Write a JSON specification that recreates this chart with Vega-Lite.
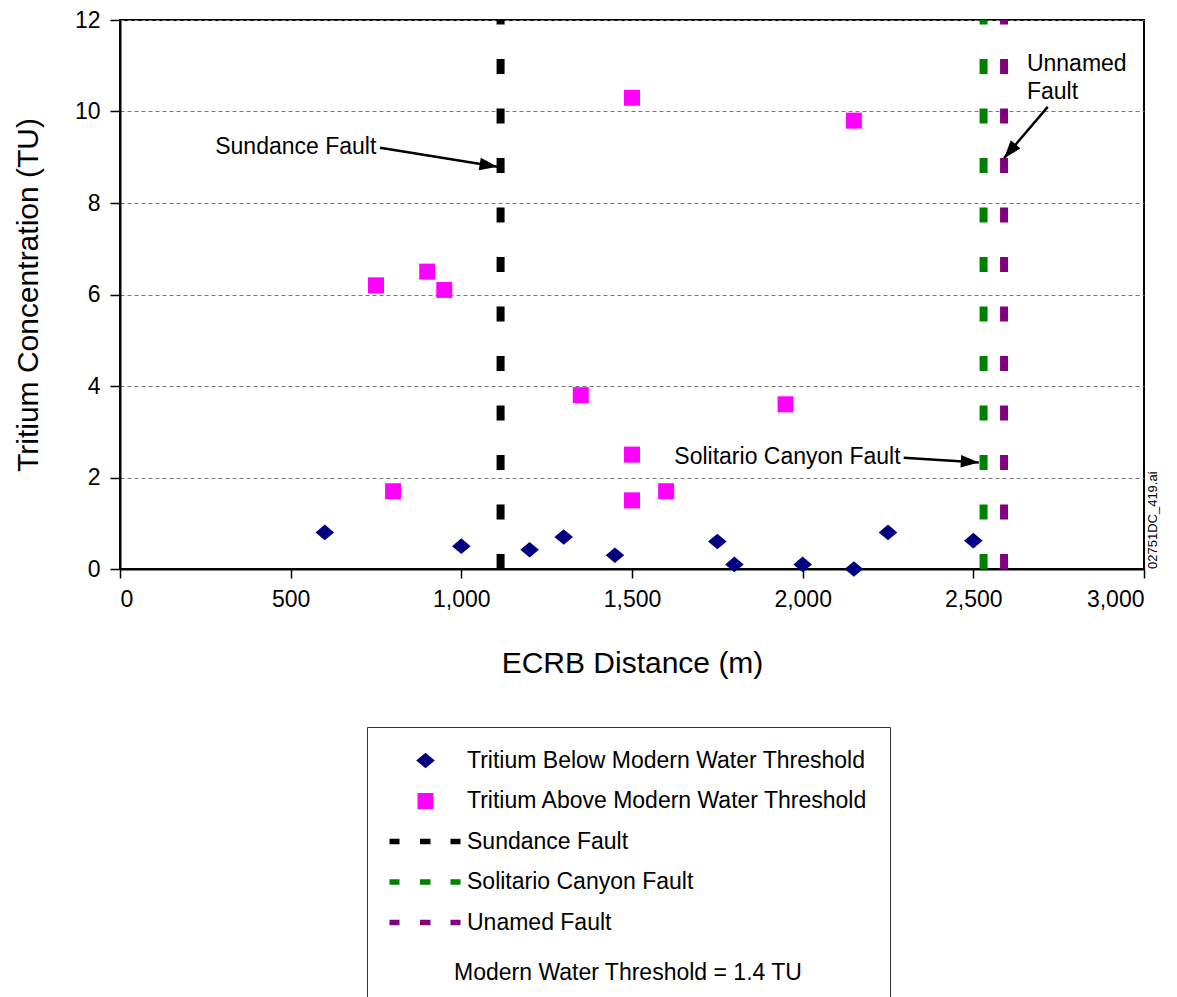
{
  "$schema": "https://vega.github.io/schema/vega-lite/v6.json",
  "width": 1024,
  "height": 549,
  "autosize": {"type": "none"},
  "padding": {"left": 120, "top": 20, "right": 33, "bottom": 428},
  "background": "white",
  "config": {
    "font": "Liberation Sans",
    "view": {"stroke": "black", "strokeWidth": 2},
    "axis": {
      "domainColor": "black",
      "domainWidth": 2,
      "tickColor": "black",
      "tickWidth": 1.5,
      "labelColor": "black",
      "labelFontSize": 23,
      "titleColor": "black",
      "titleFontSize": 30,
      "titleFontWeight": "normal"
    }
  },
  "datasets": {
    "faults": [
      {"series": "Sundance Fault", "distance": 1115},
      {"series": "Solitario Canyon Fault", "distance": 2530},
      {"series": "Unamed Fault", "distance": 2590}
    ],
    "samples": [
      {"series": "Tritium Below Modern Water Threshold", "distance": 600, "tritium": 0.8},
      {"series": "Tritium Below Modern Water Threshold", "distance": 1000, "tritium": 0.5},
      {"series": "Tritium Below Modern Water Threshold", "distance": 1200, "tritium": 0.42},
      {"series": "Tritium Below Modern Water Threshold", "distance": 1300, "tritium": 0.7},
      {"series": "Tritium Below Modern Water Threshold", "distance": 1450, "tritium": 0.3},
      {"series": "Tritium Below Modern Water Threshold", "distance": 1750, "tritium": 0.6},
      {"series": "Tritium Below Modern Water Threshold", "distance": 1800, "tritium": 0.1},
      {"series": "Tritium Below Modern Water Threshold", "distance": 2000, "tritium": 0.1},
      {"series": "Tritium Below Modern Water Threshold", "distance": 2150, "tritium": 0.0},
      {"series": "Tritium Below Modern Water Threshold", "distance": 2250, "tritium": 0.8},
      {"series": "Tritium Below Modern Water Threshold", "distance": 2500, "tritium": 0.62},
      {"series": "Tritium Above Modern Water Threshold", "distance": 750, "tritium": 6.2},
      {"series": "Tritium Above Modern Water Threshold", "distance": 800, "tritium": 1.7},
      {"series": "Tritium Above Modern Water Threshold", "distance": 900, "tritium": 6.5},
      {"series": "Tritium Above Modern Water Threshold", "distance": 950, "tritium": 6.1},
      {"series": "Tritium Above Modern Water Threshold", "distance": 1350, "tritium": 3.8},
      {"series": "Tritium Above Modern Water Threshold", "distance": 1500, "tritium": 10.3},
      {"series": "Tritium Above Modern Water Threshold", "distance": 1500, "tritium": 2.5},
      {"series": "Tritium Above Modern Water Threshold", "distance": 1500, "tritium": 1.5},
      {"series": "Tritium Above Modern Water Threshold", "distance": 1600, "tritium": 1.7},
      {"series": "Tritium Above Modern Water Threshold", "distance": 1950, "tritium": 3.6},
      {"series": "Tritium Above Modern Water Threshold", "distance": 2150, "tritium": 9.8}
    ],
    "labels_right": [
      {"text": "Sundance Fault", "distance": 751, "tritium": 9.23},
      {"text": "Solitario Canyon Fault", "distance": 2287, "tritium": 2.45}
    ],
    "labels_left": [
      {"text": "Unnamed", "distance": 2657, "tritium": 11.04},
      {"text": "Fault", "distance": 2657, "tritium": 10.43}
    ],
    "arrows": [
      {"name": "Sundance", "distance": 762, "tritium": 9.21, "distance_tip": 1106, "tritium_tip": 8.79},
      {"name": "Solitario", "distance": 2296, "tritium": 2.43, "distance_tip": 2516, "tritium_tip": 2.33},
      {"name": "Unnamed", "distance": 2718, "tritium": 10.10, "distance_tip": 2590, "tritium_tip": 8.98}
    ],
    "stamp": [
      {"text": "02751DC_419.ai", "distance": 3000, "tritium": 0}
    ]
  },
  "layer": [
    {
      "data": {"name": "faults"},
      "mark": {"type": "rule", "strokeWidth": 8, "strokeDash": [15, 34.5], "strokeCap": "butt"},
      "encoding": {
        "x": {"field": "distance", "type": "quantitative", "scale": {"domain": [0, 3000], "nice": false},
          "axis": {"values": [0, 500, 1000, 1500, 2000, 2500, 3000], "format": ",d", "grid": false, "tickSize": 9, "labelPadding": 10, "title": "ECRB Distance (m)", "titlePadding": 37}},
        "y": {"datum": 0, "type": "quantitative", "scale": {"domain": [0, 12], "nice": false},
          "axis": {"values": [0, 2, 4, 6, 8, 10, 12], "grid": true, "gridColor": "#777777", "gridDash": [4, 3], "gridWidth": 1, "tickSize": 10, "labelPadding": 10, "title": "Tritium Concentration (TU)", "titlePadding": 31}},
        "y2": {"datum": 12},
        "stroke": {"field": "series", "type": "nominal",
          "scale": {"domain": ["Sundance Fault", "Solitario Canyon Fault", "Unamed Fault"], "range": ["#000000", "#008000", "#800080"]},
          "legend": null}
      }
    },
    {
      "data": {"name": "samples"},
      "mark": {"type": "point", "filled": true, "size": 400, "opacity": 1, "strokeWidth": 0},
      "encoding": {
        "x": {"field": "distance", "type": "quantitative"},
        "y": {"field": "tritium", "type": "quantitative"},
        "color": {
          "field": "series", "type": "nominal",
          "scale": {
            "domain": ["Tritium Below Modern Water Threshold", "Tritium Above Modern Water Threshold", "Sundance Fault", "Solitario Canyon Fault", "Unamed Fault"],
            "range": ["#000080", "#ff00ff", "#000000", "#008000", "#800080"]
          },
          "legend": {
            "orient": "none", "legendX": 247, "legendY": 707, "direction": "vertical",
            "title": "Modern Water Threshold = 1.4 TU", "titleOrient": "bottom", "titleAnchor": "middle", "titleLimit": 700,
            "titleFontSize": 23, "titleFontWeight": "normal", "titleColor": "black", "titlePadding": 27,
            "labelFontSize": 23, "labelColor": "black", "labelOffset": 30, "labelLimit": 700,
            "symbolOffset": 25, "symbolSize": 400, "symbolStrokeWidth": 0, "symbolOpacity": 1,
            "rowPadding": 16.5, "padding": 22, "strokeColor": "#333333", "fillColor": "white"
          }
        },
        "shape": {
          "field": "series", "type": "nominal",
          "scale": {
            "domain": ["Tritium Below Modern Water Threshold", "Tritium Above Modern Water Threshold", "Sundance Fault", "Solitario Canyon Fault", "Unamed Fault"],
            "range": [
              "M0,-0.78L0.93,0L0,0.78L-0.93,0Z",
              "M-0.8,-0.8H0.8V0.8H-0.8Z",
              "M-3.6,-0.27H-2.6V0.27H-3.6Z M-0.55,-0.27H0.5V0.27H-0.55Z M2.5,-0.27H3.5V0.27H2.5Z",
              "M-3.6,-0.27H-2.6V0.27H-3.6Z M-0.55,-0.27H0.5V0.27H-0.55Z M2.5,-0.27H3.5V0.27H2.5Z",
              "M-3.6,-0.27H-2.6V0.27H-3.6Z M-0.55,-0.27H0.5V0.27H-0.55Z M2.5,-0.27H3.5V0.27H2.5Z"
            ]
          },
          "legend": {
            "orient": "none", "legendX": 247, "legendY": 707, "direction": "vertical",
            "title": "Modern Water Threshold = 1.4 TU", "titleOrient": "bottom", "titleAnchor": "middle", "titleLimit": 700,
            "titleFontSize": 23, "titleFontWeight": "normal", "titleColor": "black", "titlePadding": 27,
            "labelFontSize": 23, "labelColor": "black", "labelOffset": 30, "labelLimit": 700,
            "symbolOffset": 25, "symbolSize": 400, "symbolStrokeWidth": 0, "symbolOpacity": 1,
            "rowPadding": 16.5, "padding": 22, "strokeColor": "#333333", "fillColor": "white"
          }
        }
      }
    },
    {
      "data": {"name": "arrows"},
      "mark": {"type": "rule", "strokeWidth": 2.5, "color": "black"},
      "encoding": {
        "x": {"field": "distance", "type": "quantitative"},
        "y": {"field": "tritium", "type": "quantitative"},
        "x2": {"field": "distance_tip"},
        "y2": {"field": "tritium_tip"}
      }
    },
    {
      "data": {"name": "arrows"},
      "transform": [{"filter": "datum.name === 'Sundance'"}],
      "mark": {"type": "point", "shape": "M0,0L-2,-0.7L-2,0.7Z", "size": 324, "filled": true, "color": "black", "opacity": 1, "strokeWidth": 0, "angle": 9.4},
      "encoding": {
        "x": {"field": "distance_tip", "type": "quantitative"},
        "y": {"field": "tritium_tip", "type": "quantitative"}
      }
    },
    {
      "data": {"name": "arrows"},
      "transform": [{"filter": "datum.name === 'Solitario'"}],
      "mark": {"type": "point", "shape": "M0,0L-2,-0.7L-2,0.7Z", "size": 324, "filled": true, "color": "black", "opacity": 1, "strokeWidth": 0, "angle": 3.4},
      "encoding": {
        "x": {"field": "distance_tip", "type": "quantitative"},
        "y": {"field": "tritium_tip", "type": "quantitative"}
      }
    },
    {
      "data": {"name": "arrows"},
      "transform": [{"filter": "datum.name === 'Unnamed'"}],
      "mark": {"type": "point", "shape": "M0,0L-2,-0.7L-2,0.7Z", "size": 324, "filled": true, "color": "black", "opacity": 1, "strokeWidth": 0, "angle": 130},
      "encoding": {
        "x": {"field": "distance_tip", "type": "quantitative"},
        "y": {"field": "tritium_tip", "type": "quantitative"}
      }
    },
    {
      "data": {"name": "labels_right"},
      "mark": {"type": "text", "align": "right", "baseline": "middle", "fontSize": 23, "color": "black"},
      "encoding": {
        "x": {"field": "distance", "type": "quantitative"},
        "y": {"field": "tritium", "type": "quantitative"},
        "text": {"field": "text"}
      }
    },
    {
      "data": {"name": "labels_left"},
      "mark": {"type": "text", "align": "left", "baseline": "middle", "fontSize": 23, "color": "black"},
      "encoding": {
        "x": {"field": "distance", "type": "quantitative"},
        "y": {"field": "tritium", "type": "quantitative"},
        "text": {"field": "text"}
      }
    },
    {
      "data": {"name": "stamp"},
      "mark": {"type": "text", "align": "left", "baseline": "middle", "angle": 270, "fontSize": 13, "dy": 9, "color": "black"},
      "encoding": {
        "x": {"field": "distance", "type": "quantitative"},
        "y": {"field": "tritium", "type": "quantitative"},
        "text": {"field": "text"}
      }
    }
  ]
}
